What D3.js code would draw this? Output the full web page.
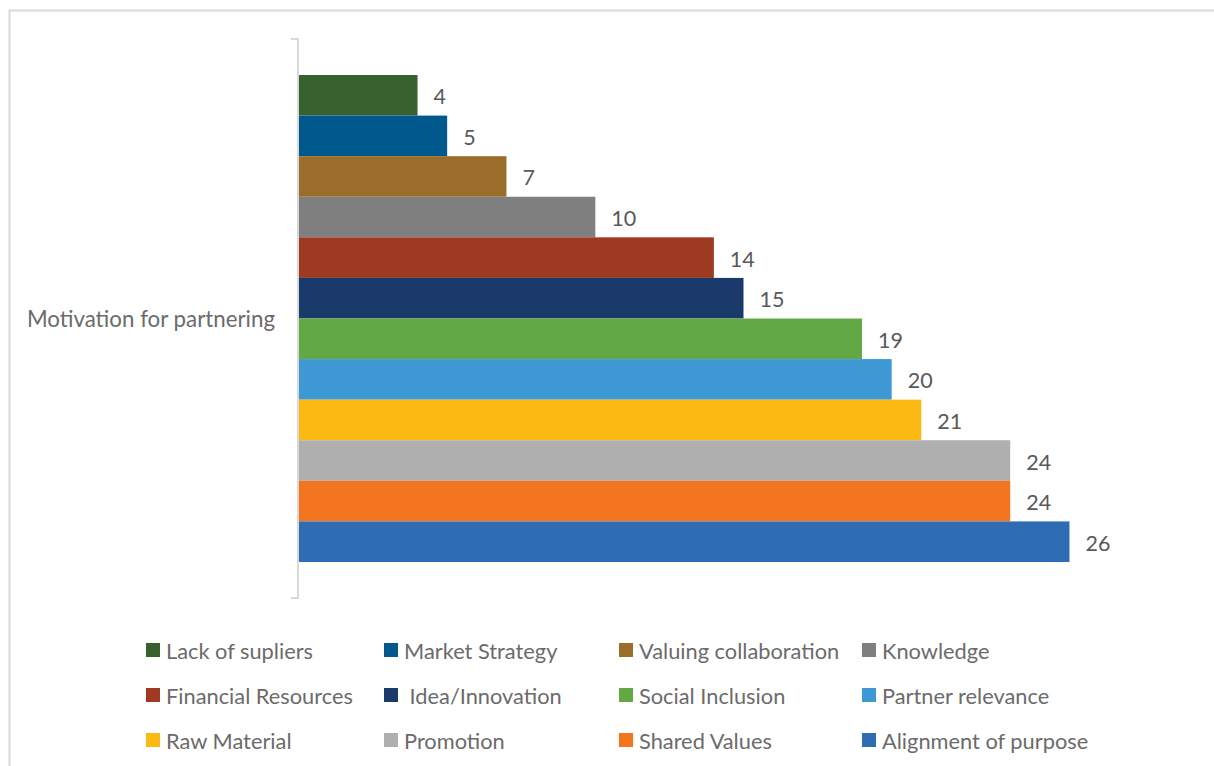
<!DOCTYPE html>
<html>
<head>
<meta charset="utf-8">
<script src="https://cdn.jsdelivr.net/npm/d3@7"></script>
<style>
  body { margin: 0; background: #fff; }
  svg { display: block; font-family: Lato, "Open Sans", sans-serif; }
</style>
</head>
<body>
<svg></svg>
<script>
// chart data
const category = "Motivation for partnering";
const series = ["Lack of supliers", "Market Strategy", "Valuing collaboration", "Knowledge",
  "Financial Resources", " Idea/Innovation", "Social Inclusion", "Partner relevance",
  "Raw Material", "Promotion", "Shared Values", "Alignment of purpose"];
const values = [4, 5, 7, 10, 14, 15, 19, 20, 21, 24, 24, 26];
const colors = ["#376230", "#00588C", "#9B6D2B", "#7F7F7F", "#9E3A21", "#1B3A6C",
  "#62A845", "#3E98D4", "#FDB913", "#AFAFB0", "#F47520", "#2E6DB4"];

const W = 1214, H = 766;
const svg = d3.select("svg").attr("width", W).attr("height", H);

// outer frame (cut off on right and bottom)
svg.append("rect")
  .attr("x", 9.5).attr("y", 10.5)
  .attr("width", W + 20).attr("height", H + 20)
  .attr("fill", "none").attr("stroke", "#d9d9d9").attr("stroke-width", 2);

const x = d3.scaleLinear().domain([0, 30]).range([299, 1188]);

// one category, series stacked as bands inside it
const yCat = d3.scaleBand().domain([category]).range([39, 598]);
const y = d3.scaleBand().domain(series).range([75, 562]);

// category axis
const axisX = 298;
svg.append("path")
  .attr("d", `M${axisX - 7},${yCat.range()[0]}H${axisX}V${yCat.range()[1]}H${axisX - 7}`)
  .attr("fill", "none").attr("stroke", "#d9d9d9").attr("stroke-width", 2);

svg.append("text")
  .attr("x", 275)
  .attr("y", yCat(category) + yCat.bandwidth() / 2)
  .attr("text-anchor", "end")
  .attr("dominant-baseline", "central")
  .attr("font-size", 22.3)
  .attr("fill", "#6b6b6b")
  .text(category);

// bars
svg.selectAll("rect.bar")
  .data(values)
  .join("rect")
  .attr("class", "bar")
  .attr("x", x(0))
  .attr("y", (d, i) => y(series[i]))
  .attr("width", d => x(d) - x(0))
  .attr("height", y.bandwidth())
  .attr("fill", (d, i) => colors[i]);

// value labels
svg.selectAll("text.val")
  .data(values)
  .join("text")
  .attr("class", "val")
  .attr("x", d => x(d) + 16)
  .attr("y", (d, i) => y(series[i]) + y.bandwidth() / 2 + 1)
  .attr("dominant-baseline", "central")
  .attr("font-size", 21.5)
  .attr("fill", "#595959")
  .text(d => d);

// legend, 4 columns x 3 rows
const colX = [146, 384, 619, 862];
const rowY = [650, 695, 740];
const leg = svg.selectAll("g.leg")
  .data(series)
  .join("g")
  .attr("class", "leg")
  .attr("transform", (d, i) => `translate(${colX[i % 4]},${rowY[Math.floor(i / 4)]})`);

leg.append("rect")
  .attr("x", 0).attr("y", -7)
  .attr("width", 14).attr("height", 14)
  .attr("fill", (d, i) => colors[i]);

leg.append("text")
  .attr("x", 20)
  .attr("y", 0)
  .attr("dominant-baseline", "central")
  .attr("font-size", 21.8)
  .attr("fill", "#6b6b6b")
  .attr("xml:space", "preserve")
  .style("white-space", "pre")
  .text(d => d);
</script>
</body>
</html>
